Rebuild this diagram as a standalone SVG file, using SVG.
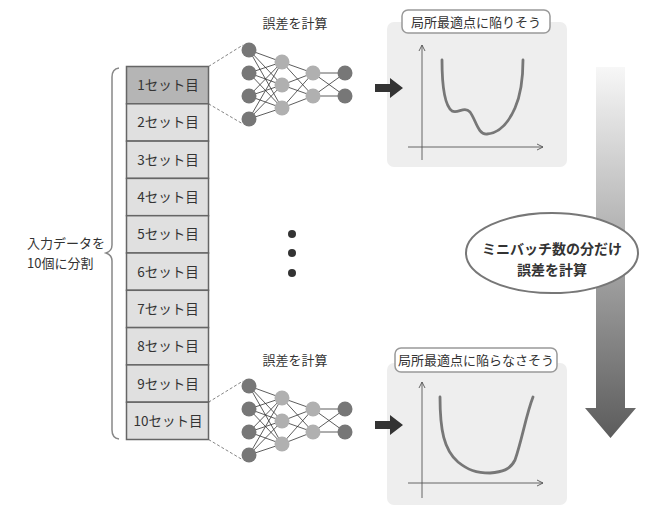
<svg xmlns="http://www.w3.org/2000/svg" width="656" height="513" viewBox="0 0 656 513">
<defs>
<style>
text{font-family:"Noto Sans CJK JP","Noto Sans",sans-serif;fill:#333;}
.t13{font-size:13px;}
.set{font-size:13.5px;text-anchor:middle;}
.row{fill:#e0e0e0;stroke:#666;stroke-width:1.5;}
.row1{fill:#b5b5b5;stroke:#666;stroke-width:1.5;}
.dk{fill:#777;}
.lt{fill:#b0b0b0;}
.edge{stroke:#333;stroke-width:0.8;fill:none;}
.dash{stroke:#666;stroke-width:0.8;stroke-dasharray:3 2;fill:none;}
.panel{fill:#eeeeee;}
.lbl{fill:#fff;stroke:#999;stroke-width:1.5;}
.axis{stroke:#555;stroke-width:0.9;fill:none;}
.curve{stroke:#777;stroke-width:2.8;fill:none;stroke-linecap:round;}
.arr{fill:#333;stroke:none;}
</style>
<marker id="ah" viewBox="0 0 8 8" refX="7" refY="4" markerWidth="8" markerHeight="8" markerUnits="userSpaceOnUse" orient="auto">
<path d="M1,1 L7,4 L1,7" fill="none" stroke="#555" stroke-width="0.9"/>
</marker>
<linearGradient id="gd" x1="0" y1="0" x2="0" y2="1">
<stop offset="0" stop-color="#f7f7f7"/>
<stop offset="1" stop-color="#5c5c5c"/>
</linearGradient>
<g id="net">
<g class="edge">
<path d="M249,50L282,62M249,50L282,85M249,50L282,108M249,73L282,62M249,73L282,85M249,73L282,108M249,96L282,62M249,96L282,85M249,96L282,108M249,119L282,62M249,119L282,85M249,119L282,108"/>
<path d="M282,62L313,73M282,62L313,96M282,85L313,73M282,85L313,96M282,108L313,73M282,108L313,96"/>
<path d="M313,73L345,73M313,73L345,96M313,96L345,73M313,96L345,96"/>
</g>
<circle class="dk" cx="249" cy="50" r="7.5"/><circle class="dk" cx="249" cy="73" r="7.5"/><circle class="dk" cx="249" cy="96" r="7.5"/><circle class="dk" cx="249" cy="119" r="7.5"/>
<circle class="lt" cx="282" cy="62" r="7.5"/><circle class="lt" cx="282" cy="85" r="7.5"/><circle class="lt" cx="282" cy="108" r="7.5"/>
<circle class="lt" cx="313" cy="73" r="7.5"/><circle class="lt" cx="313" cy="96" r="7.5"/>
<circle class="dk" cx="345" cy="73" r="7.5"/><circle class="dk" cx="345" cy="96" r="7.5"/>
</g>
</defs>

<g id="brace">
<path d="M119,68 Q112,69 112,77 V245 Q112,251 106,253 Q112,255 112,261 V430 Q112,438 119,439" fill="none" stroke="#888" stroke-width="1.5"/>
<text class="t13" x="27" y="248">入力データを</text>
<text class="t13" x="27" y="268">10個に分割</text>
</g>

<g id="stack">
<rect class="row1" x="126.5" y="66.5" width="82" height="37.3"/>
<rect class="row" x="126.5" y="103.8" width="82" height="37.3"/>
<rect class="row" x="126.5" y="141.1" width="82" height="37.3"/>
<rect class="row" x="126.5" y="178.4" width="82" height="37.3"/>
<rect class="row" x="126.5" y="215.7" width="82" height="37.3"/>
<rect class="row" x="126.5" y="253" width="82" height="37.3"/>
<rect class="row" x="126.5" y="290.3" width="82" height="37.3"/>
<rect class="row" x="126.5" y="327.6" width="82" height="37.3"/>
<rect class="row" x="126.5" y="364.9" width="82" height="37.3"/>
<rect class="row" x="126.5" y="402.2" width="82" height="37.3"/>
<text class="set" x="168" y="90">1セット目</text>
<text class="set" x="168" y="127">2セット目</text>
<text class="set" x="168" y="164.5">3セット目</text>
<text class="set" x="168" y="202">4セット目</text>
<text class="set" x="168" y="239">5セット目</text>
<text class="set" x="168" y="276.5">6セット目</text>
<text class="set" x="168" y="314">7セット目</text>
<text class="set" x="168" y="351">8セット目</text>
<text class="set" x="168" y="388.5">9セット目</text>
<text class="set" x="168" y="426">10セット目</text>
</g>

<g id="net1">
<text class="t13" x="295" y="28" text-anchor="middle">誤差を計算</text>
<use href="#net"/>
</g>

<g id="dots">
<circle cx="292" cy="234" r="4" fill="#333"/>
<circle cx="292" cy="253" r="4" fill="#333"/>
<circle cx="292" cy="273" r="4" fill="#333"/>
</g>

<g id="net2">
<text class="t13" x="295" y="365" text-anchor="middle">誤差を計算</text>
<use href="#net" y="336"/>
</g>

<g id="graph1">
<rect class="panel" x="387" y="22" width="180" height="145" rx="7"/>
<rect class="lbl" x="402" y="10" width="148" height="23" rx="6"/>
<text class="t13" x="476" y="26.5" text-anchor="middle">局所最適点に陥りそう</text>
<path class="axis" d="M422,160V45" marker-end="url(#ah)"/>
<path class="axis" d="M408,147H543" marker-end="url(#ah)"/>
<path class="curve" d="M442,60 C442,80 444,105 452,111 C458,114 464,106 470,112 C476,120 478,135 487,134 C498,133 508,124 515,108 C522,92 523,75 523,60"/>
</g>

<g id="graph2">
<rect class="panel" x="387" y="363" width="180" height="142" rx="7"/>
<rect class="lbl" x="395" y="348" width="162" height="24" rx="6"/>
<text class="t13" x="476" y="365" text-anchor="middle">局所最適点に陥らなさそう</text>
<path class="axis" d="M422,498V382" marker-end="url(#ah)"/>
<path class="axis" d="M408,483H543" marker-end="url(#ah)"/>
<path class="curve" d="M440,397 C440,430 444,450 458,462 C468,470 476,473 490,473 C502,472 510,470 515,460 C522,440 526,415 533,397"/>
</g>

<g id="connectors">
<path class="dash" d="M208.5,66.5L243,45M208.5,103.8L243,124"/>
<path class="dash" d="M208.5,402.2L243,381M208.5,439.5L243,460"/>
<path class="arr" d="M375,84 L390,84 L390,78 L403,88 L390,98 L390,92 L375,92 Z"/>
<path class="arr" d="M375,421 L390,421 L390,415 L403,425 L390,435 L390,429 L375,429 Z"/>
</g>

<g id="flow">
<path d="M596,67H625V408H636L610.5,438L585,408H596Z" fill="url(#gd)"/>
<ellipse cx="552" cy="253" rx="86" ry="40" fill="#fff" stroke="#777" stroke-width="2"/>
<text x="552" y="254" text-anchor="middle" font-size="14" font-weight="bold">ミニバッチ数の分だけ</text>
<text x="552" y="275" text-anchor="middle" font-size="14" font-weight="bold">誤差を計算</text>
</g>
</svg>
